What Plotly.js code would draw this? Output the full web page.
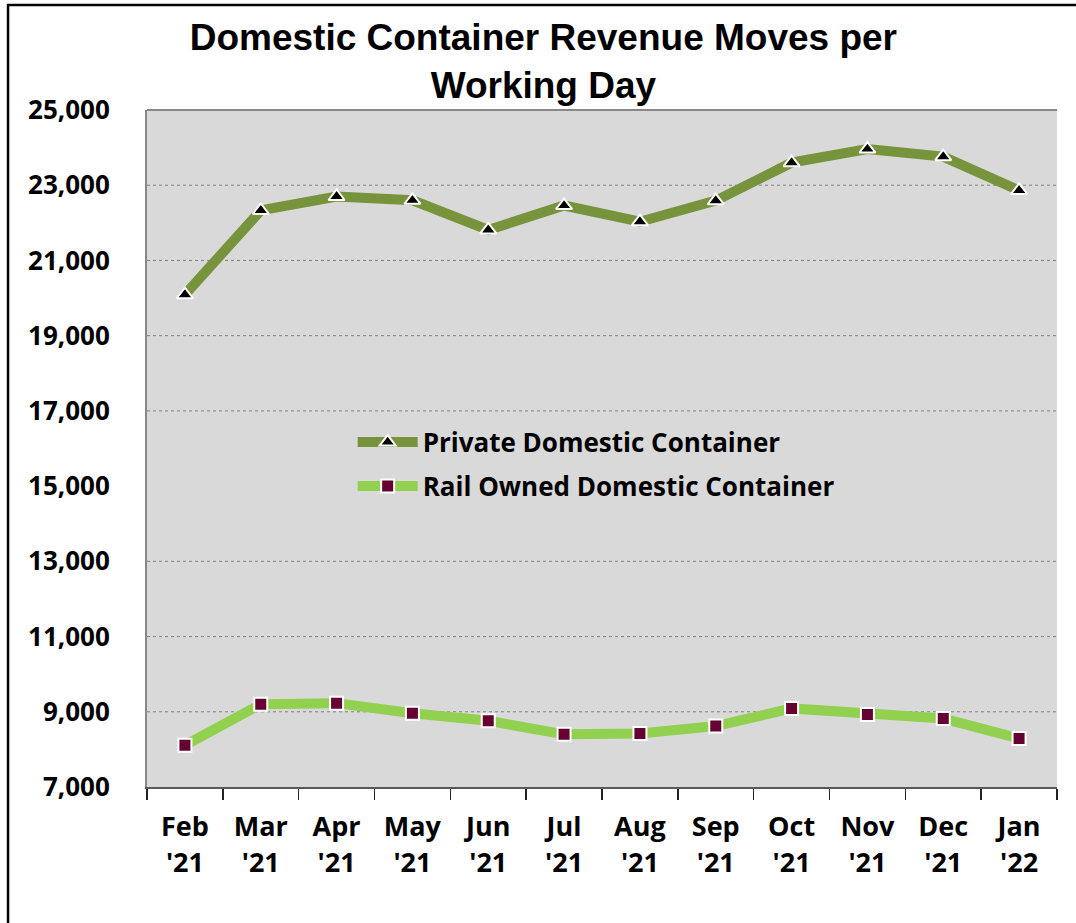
<!DOCTYPE html>
<html>
<head>
<meta charset="utf-8">
<script src="https://cdn.plot.ly/plotly-3.0.1.min.js"></script>
<style>html,body{margin:0;padding:0;background:#fff;}#chart{width:1076px;height:923px;}</style>
</head>
<body>
<div id="chart"></div>
<script>
const months = ["Feb<br>'21","Mar<br>'21","Apr<br>'21","May<br>'21","Jun<br>'21","Jul<br>'21","Aug<br>'21","Sep<br>'21","Oct<br>'21","Nov<br>'21","Dec<br>'21","Jan<br>'22"];
const privateDomestic = [20090, 22330, 22700, 22600, 21810, 22460, 22030, 22590, 23600, 23960, 23760, 22860];
const railOwned = [8110, 9200, 9230, 8960, 8760, 8400, 8420, 8620, 9090, 8930, 8820, 8290];
const gridValues = [9000, 11000, 13000, 17000, 19000, 21000, 23000];

const FONT = "'Open Sans', Lato, sans-serif";

const traces = [
  {
    x: months, y: privateDomestic, name: "Private Domestic Container",
    legendgroup: "a",
    type: "scatter", mode: "lines+markers",
    line: {color: "#77933c", width: 10},
    marker: {symbol: "triangle-up", size: 14, color: "#000000", line: {color: "#ffffff", width: 2}}
  },
  {
    x: months, y: railOwned, name: "Rail Owned Domestic Container",
    legendgroup: "b",
    type: "scatter", mode: "lines+markers",
    line: {color: "#92d050", width: 10},
    marker: {symbol: "square", size: 13, color: "#660033", line: {color: "#ffffff", width: 2}}
  }
];

const shapes = gridValues.map(v => ({
  type: "line", xref: "paper", yref: "y", x0: 0, x1: 1, y0: v, y1: v,
  line: {color: "#7f7f7f", width: 1, dash: "dot"}, layer: "below"
}));
shapes.push({
  type: "rect", xref: "paper", yref: "paper",
  x0: -0.1527, x1: 1.03, y0: -0.22, y1: 1.1551,
  line: {color: "#000000", width: 2.5}, fillcolor: "rgba(0,0,0,0)"
});
shapes.push({
  type: "line", xref: "paper", yref: "paper", x0: 0, x1: 1, y0: 1, y1: 1,
  line: {color: "#888888", width: 2}
});

const layout = {
  width: 1076, height: 923,
  margin: {l: 147, r: 19, t: 110, b: 136},
  paper_bgcolor: "#ffffff",
  plot_bgcolor: "#d9d9d9",
  title: {
    text: "<b>Domestic Container Revenue Moves per<br>Working Day</b>",
    font: {family: "'Liberation Sans', Arial, sans-serif", size: 37, color: "#000"},
    x: 0.505, xanchor: "center", y: 0.946, yanchor: "top"
  },
  showlegend: true,
  legend: {
    x: 0.226, y: 0.544, xanchor: "left", yanchor: "top",
    bgcolor: "rgba(0,0,0,0)", itemwidth: 60,
    traceorder: "grouped", tracegroupgap: 7,
    font: {family: FONT, size: 26, color: "#000", weight: "bold"}
  },
  xaxis: {
    type: "category", range: [-0.5, 11.5],
    showgrid: false, zeroline: false,
    showline: true, linecolor: "#595959", linewidth: 2,
    ticks: "outside", tickson: "boundaries", ticklen: 11, tickwidth: 1.5, tickcolor: "#222",
    tickfont: {family: FONT, size: 27, color: "#000", weight: "bold"},
    ticklabelstandoff: 15,
    fixedrange: true
  },
  yaxis: {
    range: [7000, 25000], dtick: 2000, tick0: 7000,
    tickformat: ",d",
    showgrid: false, zeroline: false,
    showline: true, linecolor: "#888888", linewidth: 2,
    ticks: "outside", ticklen: 30, tickcolor: "rgba(0,0,0,0)",
    tickfont: {family: FONT, size: 26, color: "#000", weight: "bold"},
    fixedrange: true
  },
  yaxis2: {
    overlaying: "y", side: "right",
    range: [7000, 25000], dtick: 2000, tick0: 7000,
    showgrid: false, zeroline: false,
    showline: true, linecolor: "#000000", linewidth: 2,
    ticks: "inside", ticklen: 9, tickwidth: 1.5, tickcolor: "#222",
    showticklabels: false, fixedrange: true
  },
  shapes: shapes
};

Plotly.newPlot("chart", traces, layout, {displayModeBar: false, staticPlot: true});
</script>
</body>
</html>
